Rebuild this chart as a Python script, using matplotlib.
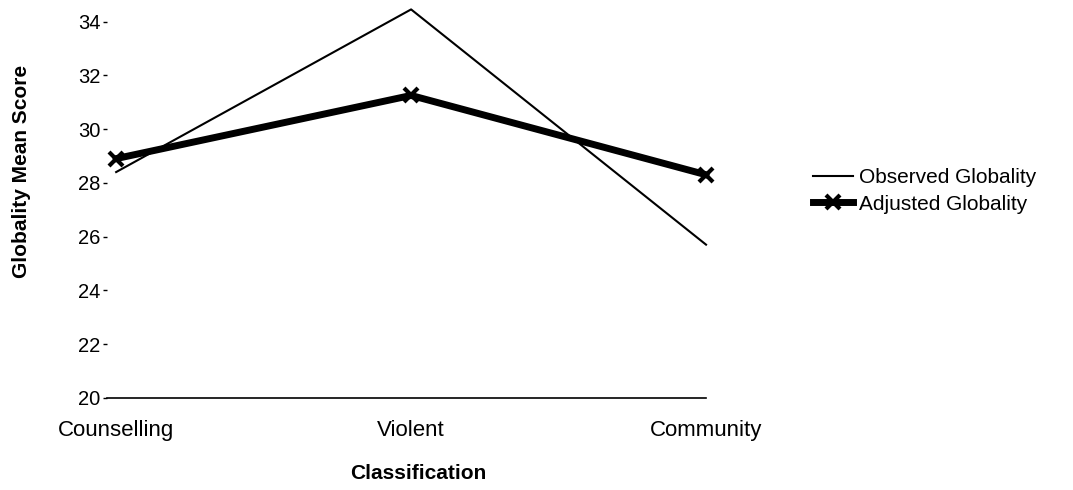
import matplotlib
matplotlib.use("Agg")
import matplotlib.pyplot as plt

categories = ["Counselling", "Violent", "Community"]
observed = [28.4, 34.45, 25.7]
adjusted = [28.9, 31.25, 28.3]
yticks = [20, 22, 24, 26, 28, 30, 32, 34]

plt.rcParams['font.family'] = ['Liberation Sans', 'DejaVu Sans']

fig = plt.figure(figsize=(10.73, 4.9), dpi=100)
ax = fig.add_axes([0.100, 0.188, 0.558, 0.812])

x = list(range(len(categories)))
ax.plot(x, observed, color='black', lw=1.5, label='Observed Globality',
        clip_on=False)
ax.plot(x, adjusted, color='black', lw=5, marker='x', ms=10, mew=3,
        label='Adjusted Globality', clip_on=False)

ax.set_xlim(-0.03, 2.0)
ax.set_ylim(20, 34.8)
ax.set_yticks(yticks)
ax.set_xticks(x)
ax.set_xticklabels(categories, fontsize=16)
ax.tick_params(axis='y', labelsize=14.5, length=3, width=1, pad=2,
               direction='out')
ax.tick_params(axis='x', length=0, pad=16)
for s in ['top', 'right', 'left']:
    ax.spines[s].set_visible(False)
ax.spines['bottom'].set_linewidth(1.2)

ax.set_ylabel('Globality Mean Score', fontsize=15, fontweight='bold')
ax.yaxis.set_label_coords(-0.128, 0.57)
ax.set_xlabel('Classification', fontsize=15, fontweight='bold')
ax.xaxis.set_label_coords(0.52, -0.165)

fig.legend(loc='center left', bbox_to_anchor=(0.758, 0.61), frameon=False,
           fontsize=15, handlelength=1.9, handletextpad=0.3, labelspacing=0.35,
           borderaxespad=0, borderpad=0)

fig.savefig('out.png', dpi=100)
